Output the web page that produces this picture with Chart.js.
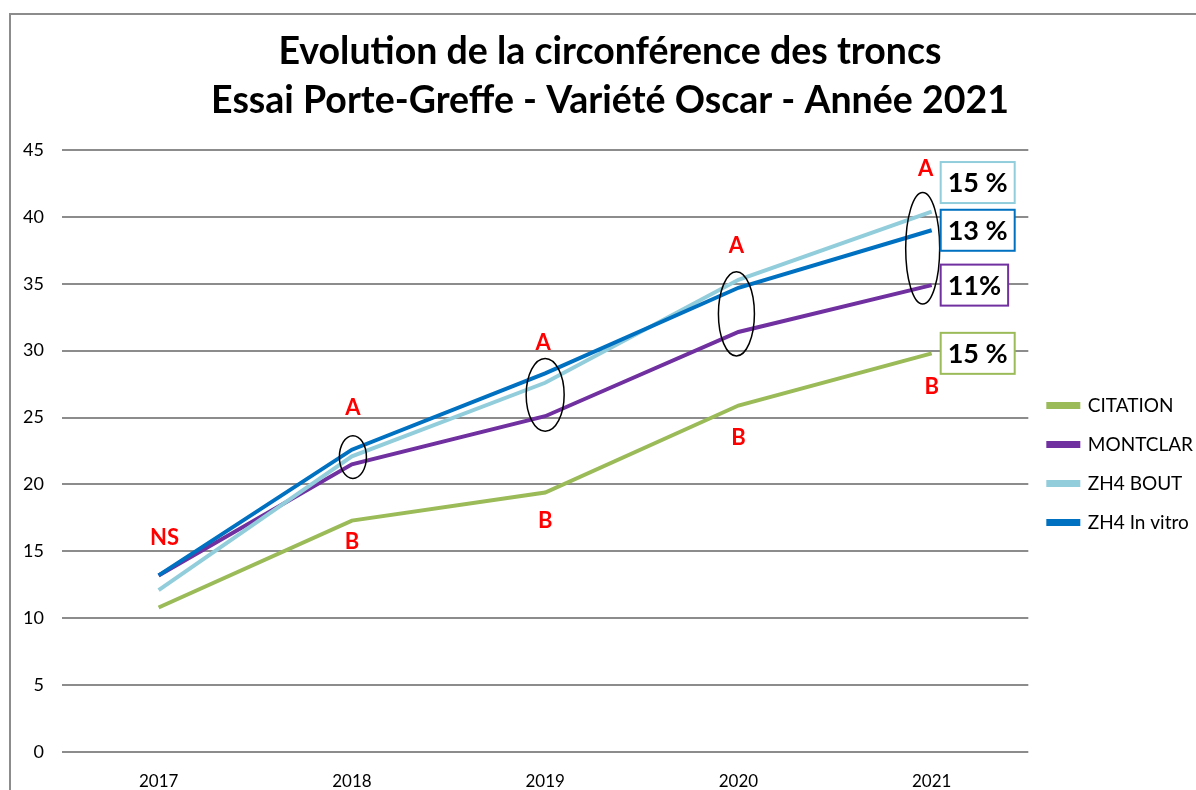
<!DOCTYPE html>
<html>
<head>
<meta charset="utf-8">
<script src="https://cdn.jsdelivr.net/npm/chart.js@4.4.1/dist/chart.umd.min.js"></script>
<style>
    html, body { margin: 0; padding: 0; background: #fff; }
    #wrap { position: relative; width: 1196px; height: 790px; }
</style>
</head>
<body>
<div id="wrap"><canvas id="chart" width="1196" height="790"></canvas></div>
<script>
// Chart data
const years = ['2017', '2018', '2019', '2020', '2021'];
const citation = [10.8, 17.3, 19.4, 25.9, 29.8];
const montclar = [13.2, 21.5, 25.1, 31.4, 34.9];
const zh4Bout = [12.1, 22.1, 27.6, 35.3, 40.4];
const zh4InVitro = [13.2, 22.6, 28.3, 34.7, 39.0];

const seriesNames = ['CITATION', 'MONTCLAR', 'ZH4 BOUT', 'ZH4 In vitro'];
const seriesColors = ['#9BBB59', '#7030A0', '#92CDDC', '#0070C0'];

// Statistical groups per year and growth labels for 2021
const topLetters = ['NS', 'A', 'A', 'A', 'A'];
const bottomLetters = ['', 'B', 'B', 'B', 'B'];
const growthLabels = ['15 %', '11%', '15 %', '13 %'];

const titleLines = [
    'Evolution de la circonférence des troncs',
    'Essai Porte-Greffe - Variété Oscar - Année 2021'
];

const FONT = 'Lato, "Open Sans", sans-serif';

// Frame + title drawn behind the chart
const framePlugin = {
    id: 'frame',
    beforeDraw(chart) {
        const ctx = chart.ctx;
        ctx.save();
        ctx.strokeStyle = '#8c8c8c';
        ctx.lineWidth = 2;
        ctx.strokeRect(10, 14, 1400, 1000);
        ctx.fillStyle = '#000';
        ctx.font = 'bold 37.5px ' + FONT;
        ctx.textAlign = 'center';
        ctx.textBaseline = 'middle';
        ctx.fillText(titleLines[0], 610, 52);
        ctx.fillText(titleLines[1], 610, 101);
        ctx.restore();
    }
};

// Letters, ellipses and growth boxes, placed from the data via the scales
const notesPlugin = {
    id: 'notes',
    afterDatasetsDraw(chart, args, opts) {
        const ctx = chart.ctx;
        const xs = chart.scales.x;
        const ys = chart.scales.y;
        ctx.save();

        // ellipses around the A group (MONTCLAR, ZH4 BOUT, ZH4 In vitro)
        ctx.strokeStyle = '#000';
        ctx.lineWidth = 1.5;
        for (let i = 1; i < years.length; i++) {
            const vals = [montclar[i], zh4Bout[i], zh4InVitro[i]];
            const yTop = ys.getPixelForValue(Math.max(...vals));
            const yBot = ys.getPixelForValue(Math.min(...vals));
            const e = opts.ellipses[i];
            ctx.beginPath();
            ctx.ellipse(xs.getPixelForValue(i) + e.dx, (yTop + yBot) / 2 + e.dy,
                e.rx, (yBot - yTop) / 2 + e.pad, 0, 0, Math.PI * 2);
            ctx.stroke();
        }

        // red letters
        ctx.fillStyle = '#FF0000';
        ctx.font = 'bold 22px ' + FONT;
        ctx.textAlign = 'center';
        ctx.textBaseline = 'middle';
        for (let i = 0; i < years.length; i++) {
            const x = xs.getPixelForValue(i);
            const top = Math.max(montclar[i], zh4Bout[i], zh4InVitro[i]);
            ctx.fillText(topLetters[i], x + opts.topDx[i], ys.getPixelForValue(top) + opts.topDy[i]);
            if (bottomLetters[i]) {
                ctx.fillText(bottomLetters[i], x, ys.getPixelForValue(citation[i]) + opts.bottomDy[i]);
            }
        }

        // growth boxes at the last point of each series
        const last = years.length - 1;
        const lastVals = [citation[last], montclar[last], zh4Bout[last], zh4InVitro[last]];
        ctx.font = 'bold 27px ' + FONT;
        ctx.textAlign = 'left';
        for (let s = 0; s < seriesNames.length; s++) {
            const w = ctx.measureText(growthLabels[s]).width + 14;
            const h = 41;
            const x = xs.getPixelForValue(last) + 9;
            const cy = ys.getPixelForValue(lastVals[s]) + opts.boxDy[s];
            ctx.fillStyle = '#fff';
            ctx.fillRect(x, cy - h / 2, w, h);
            ctx.strokeStyle = seriesColors[s];
            ctx.lineWidth = 2;
            ctx.strokeRect(x, cy - h / 2, w, h);
            ctx.fillStyle = '#000';
            ctx.fillText(growthLabels[s], x + 7, cy + 1);
        }
        ctx.restore();
    }
};

const seriesData = [citation, montclar, zh4Bout, zh4InVitro];

new Chart(document.getElementById('chart'), {
    type: 'line',
    data: {
        labels: years,
        datasets: seriesNames.map((name, i) => ({
            label: name,
            data: seriesData[i],
            borderColor: seriesColors[i],
            backgroundColor: seriesColors[i],
            borderWidth: 4,
            pointRadius: 0,
            tension: 0,
            order: seriesNames.length - 1 - i
        }))
    },
    options: {
        responsive: false,
        animation: false,
        layout: { padding: { top: 138, left: 10, right: -7, bottom: 0 } },
        plugins: {
            title: { display: false },
            tooltip: { enabled: false },
            legend: {
                position: 'right',
                align: 'center',
                labels: {
                    boxWidth: 30,
                    boxHeight: 3,
                    padding: 20,
                    color: '#000',
                    font: { family: FONT, size: 19 },
                    sort: (a, b) => a.datasetIndex - b.datasetIndex
                }
            },
            notes: {
                ellipses: [null,
                    { dx: 1, dy: 0, rx: 13.5, pad: 14 },
                    { dx: 0, dy: 0, rx: 19, pad: 15 },
                    { dx: -2, dy: 8, rx: 18, pad: 16 },
                    { dx: -9, dy: 0, rx: 17, pad: 19 }],
                topDx: [6, 1, -2, -2, -6],
                topDy: [-38, -42, -31, -34, -43],
                bottomDy: [0, 21, 28, 32, 34],
                boxDy: [0, 0, -29, 0]
            }
        },
        scales: {
            x: {
                offset: true,
                grid: { display: false, drawTicks: false },
                border: { display: false },
                ticks: {
                    color: '#000',
                    padding: 19,
                    font: { family: FONT, size: 17 }
                },
                afterFit(scale) { scale.height = 38; }
            },
            // empty top spacer so the plot starts at the 45 line
            xTop: {
                type: 'category',
                position: 'top',
                grid: { display: false, drawTicks: false },
                border: { display: false },
                ticks: { display: false },
                afterFit(scale) { scale.height = 12; }
            },
            y: {
                min: 0,
                max: 45,
                grid: { color: '#8c8c8c', lineWidth: 2, drawTicks: false },
                border: { display: false },
                ticks: {
                    stepSize: 5,
                    color: '#000',
                    padding: 18,
                    font: { family: FONT, size: 18 }
                },
                afterFit(scale) { scale.width = 52; }
            }
        }
    },
    plugins: [framePlugin, notesPlugin]
});
</script>
</body>
</html>
